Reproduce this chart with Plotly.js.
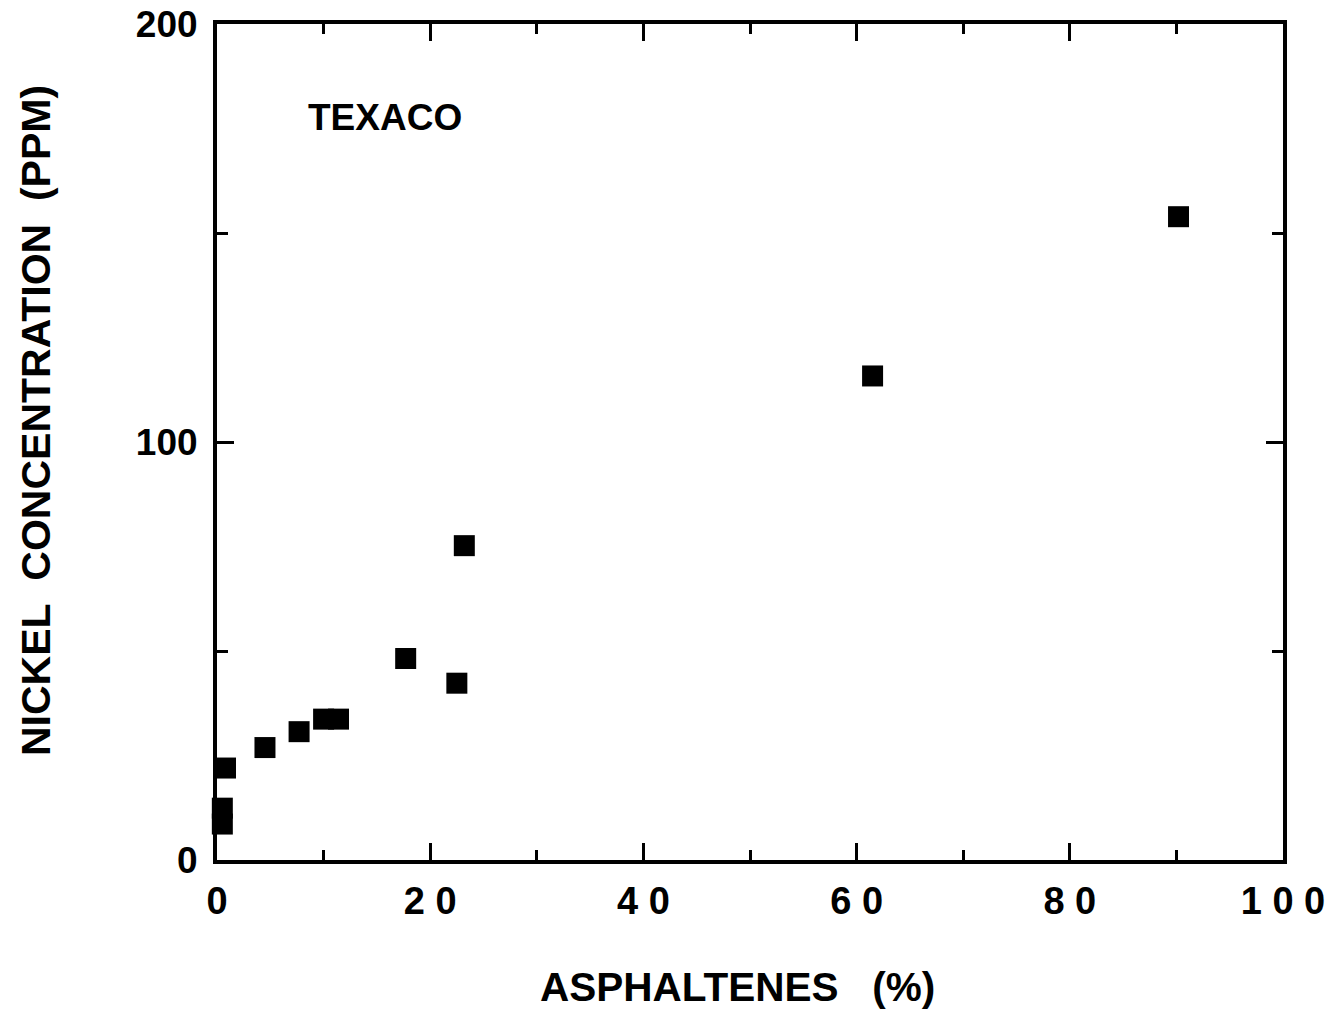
<!DOCTYPE html>
<html>
<head>
<meta charset="utf-8">
<script src="https://cdn.plot.ly/plotly-3.0.1.min.js"></script>
<style>
html, body { margin: 0; padding: 0; background: #fff; }
#chart { width: 1331px; height: 1013px; }
</style>
</head>
<body>
<div id="chart"></div>
<script>
// Data
const asphaltenes = [0.5, 0.5, 0.8, 4.5, 7.7, 10.0, 11.4, 17.7, 22.5, 23.2, 61.5, 90.2];
const nickelPPM   = [12.4, 8.6, 22.0, 26.9, 30.7, 33.7, 33.7, 48.2, 42.3, 75.2, 115.8, 153.9];

const xTickVals  = [0, 20, 40, 60, 80, 100];
const xTickText  = ['0', '2 0', '4 0', '6 0', '8 0', '1 0 0'];
const yTickVals  = [0, 100, 200];
const yTickText  = ['0', '100', '200'];

const seriesLabel = 'TEXACO';
const xTitle = 'ASPHALTENES\u00a0\u00a0\u00a0(%)';
const yTitle = 'NICKEL\u00a0\u00a0CONCENTRATION\u00a0\u00a0(PPM)';

const FONT = 'Liberation Sans, Arial, Helvetica, sans-serif';

const trace = {
  type: 'scatter',
  mode: 'markers',
  x: asphaltenes,
  y: nickelPPM,
  cliponaxis: false,
  marker: { symbol: 'square', size: 21, color: '#000', line: { width: 0 } },
  showlegend: false,
  hoverinfo: 'x+y'
};

const axisCommon = {
  showgrid: false,
  zeroline: false,
  showline: true,
  linecolor: '#000',
  linewidth: 4,
  mirror: 'ticks',
  ticks: 'inside',
  tickcolor: '#000',
  tickwidth: 3,
  ticklen: 17,
  tickmode: 'array'
};

const layout = {
  width: 1331,
  height: 1013,
  paper_bgcolor: '#fff',
  plot_bgcolor: '#fff',
  margin: { l: 217, r: 48, t: 24, b: 153 },
  xaxis: Object.assign({}, axisCommon, {
    range: [0, 100],
    tickvals: xTickVals,
    ticktext: xTickText,
    ticklabelstandoff: 4,
    tickfont: { family: FONT, size: 38, color: '#000', weight: 700 },
    minor: { tickmode: 'linear', tick0: 0, dtick: 10, ticks: 'inside', ticklen: 10, tickwidth: 3, tickcolor: '#000', showgrid: false }
  }),
  yaxis: Object.assign({}, axisCommon, {
    range: [0, 200],
    tickvals: yTickVals,
    ticktext: yTickText,
    ticklabelstandoff: 8,
    tickfont: { family: FONT, size: 37, color: '#000', weight: 700 },
    minor: { tickmode: 'linear', tick0: 0, dtick: 50, ticks: 'inside', ticklen: 11, tickwidth: 3, tickcolor: '#000', showgrid: false }
  }),
  annotations: [
    {
      text: seriesLabel, xref: 'paper', yref: 'paper', x: 0.158, y: 0.8876,
      xanchor: 'center', yanchor: 'middle', showarrow: false,
      font: { family: FONT, size: 37, color: '#000', weight: 700 }
    },
    {
      text: xTitle, xref: 'paper', yref: 'paper', x: 0.488, y: -0.152,
      xanchor: 'center', yanchor: 'middle', showarrow: false,
      font: { family: FONT, size: 40.5, color: '#000', weight: 700 }
    },
    {
      text: yTitle, xref: 'paper', yref: 'paper', x: -0.170, y: 0.526,
      xanchor: 'center', yanchor: 'middle', showarrow: false, textangle: -90,
      font: { family: FONT, size: 41, color: '#000', weight: 700 }
    }
  ]
};

Plotly.newPlot('chart', [trace], layout, { displayModeBar: false, staticPlot: true });
</script>
</body>
</html>
